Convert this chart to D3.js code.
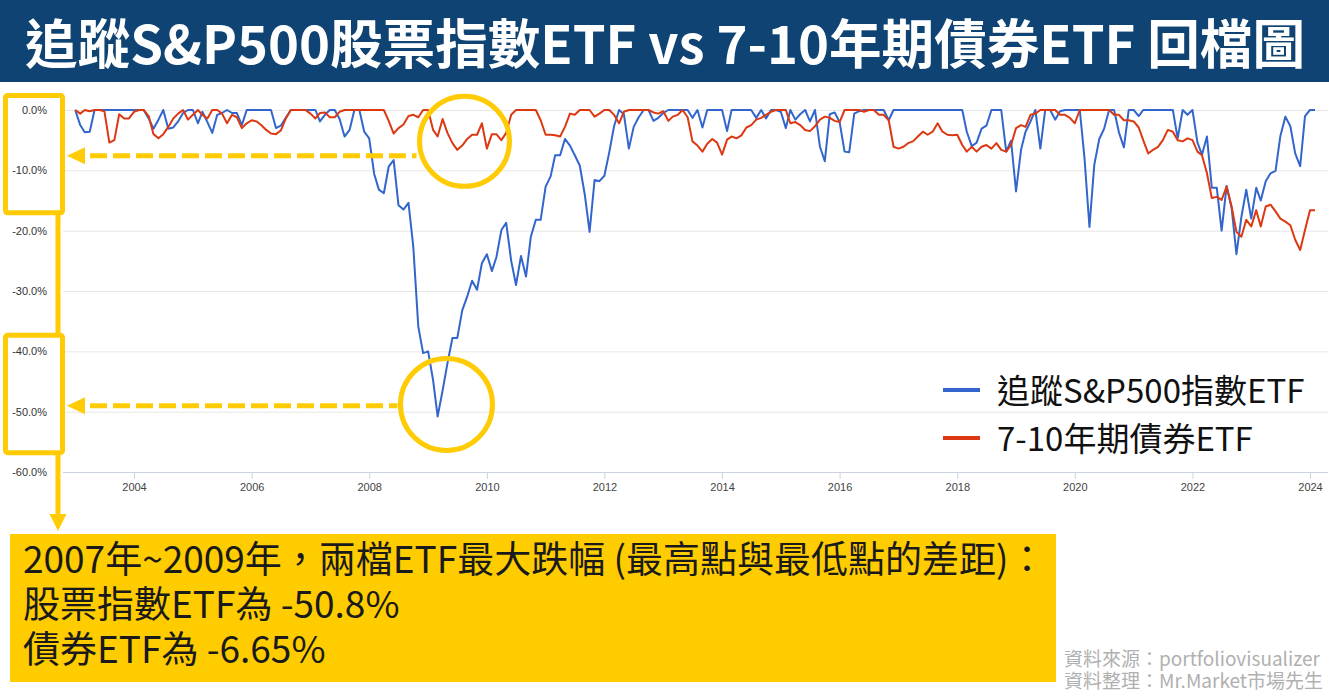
<!DOCTYPE html>
<html>
<head>
<meta charset="utf-8">
<script src="https://cdn.jsdelivr.net/npm/d3@7"></script>
<style>
  html, body { margin: 0; padding: 0; background: #fff; }
  svg { display: block; }
</style>
</head>
<body>
<svg id="chart" width="1329" height="696"></svg>
<script>
// monthly drawdown (%), first value = start point (Jan 2003), then one value per month end
var startDate = new Date(2003, 0, 1)
var stopDate = new Date(2024, 2, 1)

var stockDrawdown = [
    0,
    -2.5, -3.7, -3.6, 0, 0, 0, 0, 0, 0, 0, 0, 0,                     // 2003
    0, 0, -1.4, -3.1, -1.6, 0, -3.1, -2.9, -1.9, -0.5, 0, 0,          // 2004
    -2.2, -0.3, -2.0, -3.8, -0.8, -0.5, 0, -0.5, -0.5, -2.5, 0, 0,    // 2005
    0, 0, 0, 0, -3.0, -2.6, -1.3, 0, 0, 0, 0, 0,                      // 2006
    0, -1.9, -0.8, 0, 0, -1.5, -4.4, -3.3, 0, 0, -3.6, -4.7,          // 2007
    -10.6, -13.2, -13.8, -9.4, -8.3, -15.8, -16.5, -15.4, -22.7, -35.9, -40.3, -40.0, // 2008
    -44.8, -50.8, -46.5, -42.0, -37.8, -37.8, -33.2, -30.9, -28.3, -29.8, -25.4, -23.9, // 2009
    -26.7, -24.4, -19.9, -18.7, -25.0, -29.0, -24.2, -27.6, -21.0, -18.2, -18.2, -12.7, // 2010
    -11.0, -7.5, -7.5, -4.8, -5.9, -7.5, -9.2, -14.0, -20.2, -11.6, -11.8, -10.9,   // 2011
    -6.9, -2.7, 0, -0.7, -6.4, -2.8, -1.2, 0, 0, -1.8, -1.3, -0.5,    // 2012
    0, 0, 0, 0, 0, -1.3, 0, -2.9, 0, 0, 0, 0,                         // 2013
    -3.5, 0, 0, 0, 0, 0, -1.3, 0, -1.4, 0, 0, -0.3,                   // 2014
    -3.0, 0, -1.6, -0.7, 0, -1.9, 0, -6.1, -8.5, -0.7, -0.4, -2.0,    // 2015
    -6.9, -7.0, -0.6, -0.2, 0, 0, 0, 0, 0, -1.7, 0, 0,                // 2016
    0, 0, 0, 0, 0, 0, 0, 0, 0, 0, 0, 0,                               // 2017
    0, -3.6, -6.0, -5.4, -3.1, -2.6, 0, 0, 0, -6.9, -5.1, -13.5,      // 2018
    -6.6, -3.6, -1.9, 0, -6.4, 0, 0, -1.6, -0.2, 0, 0, 0,             // 2019
    0, -7.9, -19.4, -9.1, -4.8, -3.1, 0, 0, -3.7, -6.2, 0, 0,         // 2020
    -1.0, 0, 0, 0, 0, 0, 0, 0, -4.7, 0, -0.8, 0,                      // 2021
    -5.4, -7.4, -4.4, -12.9, -12.9, -20.0, -12.6, -16.2, -23.9, -17.7, -13.2, -18.0, // 2022
    -12.9, -15.0, -11.8, -10.5, -10.1, -4.3, -1.1, -2.7, -7.2, -9.3, -1.0, 0,       // 2023
    0                                                                 // 2024-01
]

var bondDrawdown = [
    0,
    -0.6, 0, -0.2, 0, 0, -0.2, -5.4, -5.0, -0.7, -1.4, -1.4, -0.3,    // 2003
    0, 0, -1.0, -4.0, -4.7, -4.0, -2.8, -1.4, -0.6, 0, -1.6, -0.8,    // 2004
    0, -0.8, -1.4, 0, 0, -0.6, -2.2, -0.8, -1.2, -3.0, -2.2, -1.7,    // 2005
    -1.9, -2.5, -3.3, -3.9, -4.0, -3.4, -1.4, 0, 0, 0, 0, -0.6,       // 2006
    -1.4, -0.5, -0.4, -1.2, -1.2, -0.3, 0, 0, 0, 0, 0, 0,             // 2007
    0, 0, 0, -1.8, -3.9, -3.0, -2.4, -1.0, -0.8, -1.2, 0, 0,          // 2008
    -3.3, -4.4, -1.5, -3.8, -5.5, -6.6, -5.9, -4.8, -4.1, -4.1, -2.2, -6.4,   // 2009
    -4.0, -4.0, -5.0, -3.8, -0.8, 0, 0, 0, 0, 0, -1.7, -4.1,          // 2010
    -4.1, -4.2, -4.4, -2.8, -0.6, -0.8, 0, 0, 0, -1.1, -0.6, 0,       // 2011
    0, -0.8, -2.2, -0.3, 0, 0, 0, 0, 0, -0.4, -0.6, -0.2,             // 2012
    -1.8, -1.1, -0.8, 0, -1.2, -5.2, -5.9, -6.9, -5.6, -4.8, -5.4, -7.4,      // 2013
    -4.9, -4.4, -4.7, -4.2, -2.9, -2.5, -1.6, -1.3, -0.8, -0.3, 0, 0, // 2014
    0, -2.2, -2.0, -2.5, -3.3, -3.5, -2.7, -1.6, -1.1, -1.3, -1.8, -2.0,      // 2015
    0, 0, 0, 0, -0.3, 0, 0, -0.8, -0.8, -1.7, -6.1, -6.4,             // 2016
    -6.1, -5.5, -5.2, -4.4, -3.6, -4.1, -3.6, -2.2, -3.6, -4.1, -4.2, -4.1,   // 2017
    -5.8, -6.9, -6.1, -6.9, -6.1, -5.8, -6.4, -5.5, -6.6, -6.9, -5.8, -3.0,   // 2018
    -2.5, -2.8, -0.8, -0.6, 0, 0, 0, 0, -0.8, -0.8, -1.3, -2.2,       // 2019
    0, 0, 0, 0, 0, 0, 0, -0.8, -0.8, -1.7, -1.7, -1.9,                // 2020
    -2.9, -5.0, -7.2, -6.6, -6.1, -5.0, -3.3, -3.6, -5.0, -5.2, -4.7, -5.0,   // 2021
    -6.9, -7.5, -10.5, -14.6, -14.4, -14.9, -12.7, -16.0, -20.2, -21.0, -18.2, -19.3, // 2022
    -16.6, -19.3, -16.0, -15.7, -16.8, -18.0, -18.5, -19.1, -21.5, -23.2, -19.9, -16.6, // 2023
    -16.6                                                             // 2024-01
]

var seriesNames = ["追蹤S&P500指數ETF", "7-10年期債券ETF"]
var seriesColors = ["#3366cc", "#dc3912"]
var yTicks = [0, -10, -20, -30, -40, -50, -60]
var xTickYears = [2004, 2006, 2008, 2010, 2012, 2014, 2016, 2018, 2020, 2022, 2024]

var titleText = "追蹤S&P500股票指數ETF vs 7-10年期債券ETF 回檔圖"
var noteLines = [
    "2007年~2009年，兩檔ETF最大跌幅 (最高點與最低點的差距)：",
    "股票指數ETF為 -50.8%",
    "債券ETF為 -6.65%"
]
var sourceLines = ["資料來源：portfoliovisualizer", "資料整理：Mr.Market市場先生"]

var yellow = "#ffcb05"
var cjk = "'Noto Sans CJK TC', 'Noto Sans CJK SC', sans-serif"
var latin = "'Liberation Sans', Arial, sans-serif"

var dates = d3.timeMonth.range(startDate, stopDate)

var svg = d3.select("#chart")

// title band
svg.append("rect")
    .attr("x", 0).attr("y", 0)
    .attr("width", 1329).attr("height", 82)
    .attr("fill", "#0e4373")
svg.append("text")
    .attr("x", 25).attr("y", 64)
    .attr("textLength", 1280)
    .attr("lengthAdjust", "spacingAndGlyphs")
    .style("font-family", cjk)
    .style("font-weight", "bold")
    .style("font-size", "53px")
    .attr("fill", "#fff")
    .text(titleText)

// scales
var gridLeft = 63, gridRight = 1328
var x = d3.scaleTime()
    .domain([new Date(2004, 0, 1), new Date(2024, 0, 1)])
    .range([134, 1310])
var y = d3.scaleLinear()
    .domain([0, -60])
    .range([110, 472])

// y axis + gridlines
var yAxis = d3.axisLeft(y)
    .tickValues(yTicks)
    .tickSize(-(gridRight - gridLeft))
    .tickPadding(16)
    .tickFormat(function (d) { return d.toFixed(1) + "%" })
svg.append("g")
    .attr("transform", "translate(" + gridLeft + ",0)")
    .call(yAxis)
    .call(function (g) { g.select(".domain").remove() })
    .call(function (g) {
        g.selectAll("line").attr("stroke", function (d) { return d == -60 ? "#cdd1e4" : "#e6e6e6" })
        g.selectAll("text")
            .style("font-family", latin)
            .style("font-size", "11px")
            .attr("fill", "#333")
    })

// x axis
var xAxis = d3.axisBottom(x)
    .tickValues(xTickYears.map(function (yr) { return new Date(yr, 0, 1) }))
    .tickSize(7)
    .tickPadding(4)
    .tickFormat(d3.timeFormat("%Y"))
svg.append("g")
    .attr("transform", "translate(0," + y(-60) + ")")
    .call(xAxis)
    .call(function (g) { g.select(".domain").remove() })
    .call(function (g) {
        g.selectAll("line").attr("stroke", "#cdd1e4")
        g.selectAll("text")
            .style("font-family", latin)
            .style("font-size", "11px")
            .attr("fill", "#444")
    })

// lines
var line = d3.line()
    .x(function (d, i) { return x(dates[i]) })
    .y(function (d) { return y(d) })

var allSeries = [stockDrawdown, bondDrawdown]
svg.selectAll(".series")
    .data(allSeries)
    .enter()
    .append("path")
    .attr("class", "series")
    .attr("fill", "none")
    .attr("stroke", function (d, i) { return seriesColors[i] })
    .attr("stroke-width", 2)
    .attr("stroke-linejoin", "round")
    .attr("d", line)

// legend
var legend = svg.selectAll(".legend")
    .data(seriesNames)
    .enter()
    .append("g")
    .attr("class", "legend")
    .attr("transform", function (d, i) { return "translate(943," + (390 + i * 48) + ")" })
legend.append("line")
    .attr("x1", 0).attr("x2", 37)
    .attr("stroke", function (d, i) { return seriesColors[i] })
    .attr("stroke-width", 4)
legend.append("text")
    .attr("x", 54).attr("y", 13)
    .style("font-family", cjk)
    .style("font-size", "33px")
    .attr("fill", "#111")
    .text(function (d) { return d })

// yellow annotations
var ann = svg.append("g")
    .attr("fill", "none")
    .attr("stroke", yellow)
    .attr("stroke-width", 5)

var vx = 58
var box1 = [y(0) - 14.5, y(-10) + 42.5]
var box2 = [y(-40) - 16, y(-50) + 41]
ann.append("rect")
    .attr("x", 5.5).attr("y", box1[0])
    .attr("width", 57).attr("height", box1[1] - box1[0])
    .attr("rx", 2)
ann.append("rect")
    .attr("x", 5.5).attr("y", box2[0])
    .attr("width", 57).attr("height", box2[1] - box2[0])
    .attr("rx", 2)
ann.append("line")
    .attr("x1", vx).attr("x2", vx)
    .attr("y1", box1[1] + 2).attr("y2", box2[0] - 2)
ann.append("line")
    .attr("x1", vx).attr("x2", vx)
    .attr("y1", box2[1] + 2).attr("y2", 516)
svg.append("path")
    .attr("d", "M" + (vx - 8.5) + ",514 L" + (vx + 8.5) + ",514 L" + vx + ",531 Z")
    .attr("fill", yellow)

var circles = [
    { date: new Date(2009, 7, 15), value: -5.2, r: 45, arrowValue: -7.6 },
    { date: new Date(2009, 3, 25), value: -48.8, r: 46, arrowValue: -49.0 }
]
circles.forEach(function (c) {
    var cx = x(c.date), cy = y(c.value), ay = y(c.arrowValue)
    ann.append("circle")
        .attr("cx", cx).attr("cy", cy).attr("r", c.r)
    ann.append("line")
        .attr("x1", 90).attr("x2", cx - c.r - 3)
        .attr("y1", ay).attr("y2", ay)
        .attr("stroke-dasharray", "17,6")
    svg.append("path")
        .attr("d", "M67," + ay + " L85," + (ay - 8.5) + " L85," + (ay + 8.5) + " Z")
        .attr("fill", yellow)
})

// note box
svg.append("rect")
    .attr("x", 10).attr("y", 534)
    .attr("width", 1046).attr("height", 148)
    .attr("fill", "#ffcc00")
svg.selectAll(".note")
    .data(noteLines)
    .enter()
    .append("text")
    .attr("class", "note")
    .attr("x", 23)
    .attr("y", function (d, i) { return 573 + i * 45 })
    .style("font-family", cjk)
    .style("font-size", "37px")
    .attr("fill", "#1a1a1a")
    .text(function (d) { return d })

// source
svg.selectAll(".source")
    .data(sourceLines)
    .enter()
    .append("text")
    .attr("class", "source")
    .attr("x", 1064)
    .attr("y", function (d, i) { return 666 + i * 22 })
    .style("font-family", cjk)
    .style("font-size", "19px")
    .attr("fill", "#b0b0b0")
    .text(function (d) { return d })
</script>
</body>
</html>
